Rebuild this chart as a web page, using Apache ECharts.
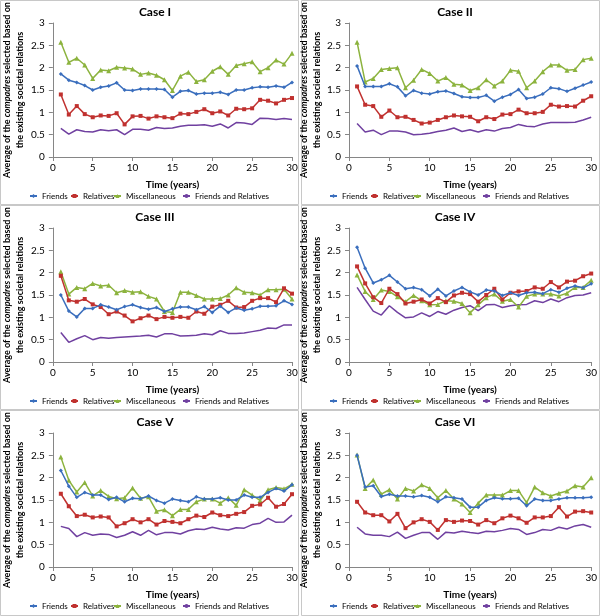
<!DOCTYPE html>
<html>
<head>
<meta charset="utf-8">
<script src="https://cdn.jsdelivr.net/npm/echarts@6/dist/echarts.min.js"></script>
<style>html,body{margin:0;padding:0;background:#fff}#c{width:600px;height:616px}</style>
</head>
<body>
<div id="c"></div>
<script>
var years = [1,2,3,4,5,6,7,8,9,10,11,12,13,14,15,16,17,18,19,20,21,22,23,24,25,26,27,28,29,30];
var caseTitles = ['Case I','Case II','Case III','Case IV','Case V','Case VI'];
var seriesNames = ['Friends','Relatives','Miscellaneous','Friends and Relatives'];

var case1Friends = [1.86,1.72,1.67,1.60,1.50,1.56,1.59,1.66,1.50,1.49,1.52,1.52,1.52,1.51,1.34,1.47,1.49,1.41,1.43,1.43,1.45,1.40,1.50,1.50,1.55,1.57,1.56,1.59,1.56,1.67];
var case1Relatives = [1.40,0.95,1.14,0.96,0.89,0.93,0.92,0.98,0.73,0.91,0.92,0.86,0.91,0.89,0.87,0.97,0.96,1.01,1.07,0.98,1.02,0.93,1.08,1.07,1.09,1.28,1.26,1.20,1.28,1.32];
var case1Misc = [2.57,2.12,2.21,2.06,1.76,1.95,1.93,2.01,1.99,1.97,1.85,1.88,1.83,1.73,1.49,1.81,1.90,1.69,1.73,1.92,2.02,1.85,2.05,2.09,2.13,1.91,2.00,2.17,2.08,2.32];
var case1FR = [0.64,0.51,0.61,0.57,0.56,0.61,0.59,0.61,0.50,0.62,0.62,0.60,0.66,0.64,0.65,0.69,0.71,0.71,0.72,0.69,0.74,0.65,0.77,0.76,0.73,0.87,0.86,0.84,0.86,0.84];

var case2Friends = [2.04,1.58,1.58,1.58,1.64,1.57,1.37,1.49,1.43,1.41,1.46,1.48,1.42,1.35,1.33,1.33,1.38,1.25,1.34,1.40,1.51,1.31,1.34,1.41,1.55,1.53,1.47,1.54,1.61,1.68];
var case2Relatives = [1.58,1.17,1.14,0.90,1.04,0.89,0.90,0.83,0.75,0.77,0.83,0.89,0.93,0.91,0.90,0.80,0.89,0.85,0.95,0.96,1.06,0.98,0.98,1.01,1.17,1.13,1.14,1.13,1.26,1.36];
var case2Misc = [2.57,1.68,1.76,1.96,1.98,2.00,1.55,1.72,1.96,1.87,1.70,1.78,1.63,1.61,1.49,1.55,1.73,1.59,1.70,1.94,1.92,1.55,1.70,1.91,2.06,2.06,1.94,1.96,2.18,2.21];
var case2FR = [0.75,0.56,0.60,0.50,0.58,0.58,0.56,0.50,0.51,0.53,0.57,0.60,0.65,0.57,0.61,0.56,0.61,0.58,0.64,0.66,0.73,0.69,0.68,0.74,0.77,0.77,0.77,0.78,0.83,0.89];

var case3Friends = [1.50,1.14,1.01,1.20,1.20,1.28,1.23,1.17,1.24,1.28,1.22,1.18,1.22,1.13,1.19,1.23,1.23,1.17,1.24,1.11,1.25,1.11,1.21,1.16,1.19,1.25,1.25,1.26,1.37,1.29];
var case3Relatives = [1.93,1.38,1.35,1.41,1.29,1.23,1.07,1.13,1.04,0.91,0.98,1.04,0.96,1.01,0.99,1.01,0.99,1.13,1.08,1.24,1.28,1.37,1.22,1.23,1.37,1.43,1.43,1.34,1.65,1.53];
var case3Misc = [2.02,1.52,1.67,1.64,1.76,1.70,1.72,1.55,1.60,1.56,1.57,1.47,1.41,1.13,1.11,1.56,1.56,1.49,1.41,1.41,1.42,1.50,1.66,1.56,1.55,1.50,1.62,1.62,1.63,1.41];
var case3FR = [0.66,0.44,0.52,0.59,0.50,0.55,0.53,0.55,0.56,0.57,0.58,0.60,0.56,0.63,0.63,0.58,0.59,0.60,0.63,0.61,0.70,0.64,0.64,0.65,0.68,0.71,0.76,0.75,0.83,0.83];

var case4Friends = [2.57,2.10,1.77,1.84,1.94,1.79,1.64,1.67,1.62,1.48,1.63,1.48,1.59,1.67,1.57,1.50,1.61,1.59,1.49,1.55,1.49,1.55,1.56,1.53,1.62,1.56,1.65,1.70,1.66,1.75];
var case4Relatives = [2.14,1.76,1.45,1.32,1.64,1.52,1.31,1.35,1.40,1.31,1.43,1.34,1.49,1.55,1.52,1.35,1.50,1.64,1.40,1.55,1.58,1.59,1.67,1.64,1.79,1.67,1.80,1.82,1.92,1.98];
var case4Misc = [1.95,1.58,1.40,1.61,1.58,1.46,1.35,1.49,1.37,1.28,1.29,1.37,1.36,1.31,1.10,1.28,1.44,1.52,1.36,1.40,1.23,1.47,1.52,1.52,1.52,1.48,1.54,1.67,1.67,1.83];
var case4FR = [1.67,1.40,1.14,1.05,1.26,1.11,0.99,1.01,1.10,1.02,1.13,1.07,1.16,1.22,1.26,1.15,1.28,1.29,1.22,1.26,1.28,1.29,1.37,1.33,1.41,1.35,1.44,1.49,1.50,1.55];

var case5Friends = [2.16,1.81,1.56,1.67,1.61,1.61,1.51,1.56,1.46,1.54,1.53,1.59,1.49,1.43,1.52,1.49,1.46,1.57,1.52,1.52,1.55,1.50,1.50,1.61,1.56,1.56,1.67,1.76,1.70,1.84];
var case5Relatives = [1.64,1.36,1.14,1.17,1.11,1.13,1.11,0.91,0.98,1.07,1.00,1.07,0.95,1.03,1.01,0.98,1.07,1.15,1.12,1.22,1.16,1.14,1.19,1.23,1.37,1.40,1.55,1.35,1.41,1.63];
var case5Misc = [2.46,1.94,1.68,1.89,1.59,1.71,1.58,1.53,1.55,1.77,1.54,1.57,1.25,1.28,1.15,1.29,1.29,1.46,1.52,1.52,1.43,1.55,1.38,1.73,1.61,1.49,1.73,1.78,1.75,1.85];
var case5FR = [0.91,0.86,0.68,0.77,0.71,0.74,0.73,0.66,0.71,0.79,0.71,0.82,0.72,0.77,0.77,0.74,0.81,0.85,0.84,0.89,0.85,0.83,0.88,0.87,0.95,0.98,1.09,1.00,1.01,1.16];

var case6Friends = [2.50,1.79,1.82,1.58,1.63,1.59,1.59,1.57,1.60,1.56,1.46,1.57,1.55,1.52,1.34,1.34,1.49,1.55,1.53,1.53,1.54,1.37,1.52,1.49,1.49,1.52,1.55,1.55,1.55,1.56];
var case6Relatives = [1.46,1.22,1.16,1.16,1.02,1.19,0.87,1.00,1.07,1.01,0.83,1.05,1.01,1.04,1.03,0.95,1.05,0.98,1.09,1.15,1.09,0.99,1.11,1.11,1.14,1.34,1.13,1.24,1.25,1.22];
var case6Misc = [2.51,1.76,1.95,1.63,1.73,1.52,1.76,1.70,1.84,1.76,1.55,1.71,1.52,1.41,1.22,1.43,1.61,1.61,1.61,1.71,1.71,1.44,1.79,1.66,1.59,1.65,1.70,1.82,1.79,2.00];
var case6FR = [0.89,0.74,0.71,0.71,0.68,0.78,0.64,0.71,0.77,0.77,0.62,0.78,0.76,0.80,0.77,0.75,0.80,0.79,0.82,0.86,0.84,0.73,0.77,0.84,0.82,0.89,0.85,0.92,0.95,0.89];

var allCases = [
  [case1Friends, case1Relatives, case1Misc, case1FR],
  [case2Friends, case2Relatives, case2Misc, case2FR],
  [case3Friends, case3Relatives, case3Misc, case3FR],
  [case4Friends, case4Relatives, case4Misc, case4FR],
  [case5Friends, case5Relatives, case5Misc, case5FR],
  [case6Friends, case6Relatives, case6Misc, case6FR]
];

var colors = ['#3A6EBD', '#C0312F', '#8CB33E', '#7040A0'];
var symbols = ['diamond', 'rect', 'triangle', 'none'];
var symbolSizes = [4, 4, 5, 0];
var legendOffsets = [29, 70, 113, 182];
var legendWidths = [40, 44, 64, 100];
var FONT = 'Lato, "Liberation Sans", sans-serif';

var chart = echarts.init(document.getElementById('c'));
var grids = [], xAxes = [], yAxes = [], titles = [], legends = [], series = [], graphics = [];

for (var p = 0; p < 6; p++) {
  var col = p % 2, row = Math.floor(p / 2);
  var ox = col * 300, oy = row * 205;
  graphics.push({
    type: 'rect', silent: true,
    shape: { x: ox + (col ? 1.5 : 0.5), y: oy + 0.5, width: 298, height: row === 2 ? 205 : 204 },
    style: { fill: 'none', stroke: '#C8C8C8', lineWidth: 1 }
  });
  grids.push({ left: ox + 49, top: oy + 23, width: 243, height: 134, containLabel: false });
  titles.push({
    text: caseTitles[p], left: ox + 150, top: oy + 1, textAlign: 'center',
    textStyle: { fontFamily: FONT, fontSize: 12, fontWeight: 'bold', color: '#000' }
  });
  xAxes.push({
    type: 'value', gridIndex: p, min: 0, max: 30, interval: 5,
    name: 'Time (years)', nameLocation: 'middle', nameGap: 23,
    nameTextStyle: { fontFamily: FONT, fontSize: 10, fontWeight: 'bold', color: '#000' },
    axisLine: { show: true, lineStyle: { color: '#868686', width: 1 } },
    axisTick: { show: true, length: 4, lineStyle: { color: '#868686' } },
    axisLabel: { fontFamily: FONT, fontSize: 10, color: '#000', margin: 6 },
    splitLine: { show: false }
  });
  yAxes.push({
    type: 'value', gridIndex: p, min: 0, max: 3, interval: 0.5,
    name: '{a|Average of the }{i|compadres}{a| selected based on}\n{a|the existing societal relations}',
    nameLocation: 'middle', nameRotate: 90, nameGap: 24,
    nameTextStyle: {
      fontFamily: FONT, fontSize: 9, fontWeight: 'bold', color: '#000', lineHeight: 13,
      rich: {
        a: { fontFamily: FONT, fontSize: 9, fontWeight: 'bold', color: '#000', lineHeight: 13 },
        i: { fontFamily: FONT, fontSize: 9, fontWeight: 'bold', fontStyle: 'italic', color: '#000', lineHeight: 13 }
      }
    },
    axisLine: { show: true, lineStyle: { color: '#868686', width: 1 } },
    axisTick: { show: true, length: 4, lineStyle: { color: '#868686' } },
    axisLabel: { fontFamily: FONT, fontSize: 10, color: '#000', margin: 8 },
    splitLine: { show: false }
  });
  for (var k = 0; k < 4; k++) {
    legends.push({
      orient: 'horizontal',
      data: [seriesNames[k]], left: ox + legendOffsets[k], top: oy + 192,
      width: legendWidths[k], height: 10,
      itemWidth: 7, itemHeight: 5, padding: 0,
      textStyle: { fontFamily: FONT, fontSize: 8, color: '#000' }
    });
  }
  for (var s = 0; s < 4; s++) {
    var vals = allCases[p][s];
    series.push({
      name: seriesNames[s], type: 'line', xAxisIndex: p, yAxisIndex: p,
      data: years.map(function (y, i) { return [y, vals[i]]; }),
      symbol: symbols[s], symbolSize: symbolSizes[s], showSymbol: s !== 3,
      itemStyle: { color: colors[s] },
      lineStyle: { color: colors[s], width: 1.5 },
      animation: false, z: 2 + (3 - s)
    });
  }
}

chart.setOption({
  animation: false,
  backgroundColor: '#fff',
  title: titles,
  grid: grids,
  xAxis: xAxes,
  yAxis: yAxes,
  legend: legends,
  series: series,
  graphic: graphics
});
</script>
</body>
</html>
